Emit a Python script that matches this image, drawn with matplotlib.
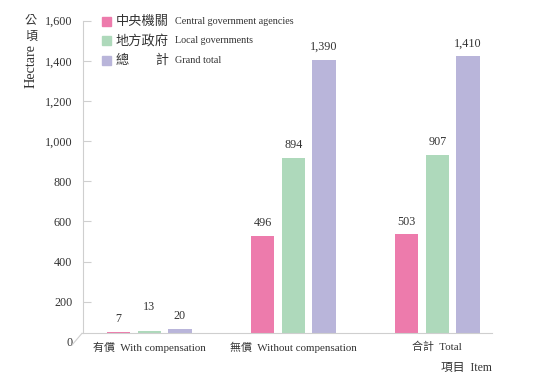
import matplotlib.pyplot as plt
from matplotlib.lines import Line2D
from matplotlib.patches import Rectangle
import numpy as np

# data
categories = ["有償  With compensation", "無償  Without compensation", "合計  Total"]
central = [7, 496, 503]
local = [13, 894, 907]
grand = [20, 1390, 1410]
series_cjk = ["中央機關", "地方政府", "總　　計"]
series_en = ["Central government agencies", "Local governments", "Grand total"]
colors = ["#ED7BAC", "#AED9BB", "#B9B5DA"]
yticks = [0, 200, 400, 600, 800, 1000, 1200, 1400, 1600]

FAM = ["Liberation Serif", "Noto Sans CJK TC"]
CJK = ["Noto Sans CJK TC"]
TXT = "#333333"
GRID = "#cfcfcf"

W, H = 536, 380
fig = plt.figure(figsize=(W / 100, H / 100), dpi=100)


def box(l, t, r, b):
    return [l / W, 1 - b / H, (r - l) / W, (b - t) / H]


def fx(x):
    return x / W


def fy(y):
    return 1 - y / H


# tick axis (back wall, slightly offset like the 3D original)
tax = fig.add_axes(box(83.3, 20.7, 84, 341.8))
tax.set_facecolor("none")
tax.set_ylim(0, 1600)
tax.set_xticks([])
tax.set_yticks(yticks)
tax.set_yticklabels([f"{v:,}" for v in yticks], family=FAM, size=8.7, color=TXT)
tax.tick_params(axis="y", direction="in", length=6, width=0.8, color=GRID, pad=8)
for s in ["top", "right", "bottom"]:
    tax.spines[s].set_visible(False)
tax.spines["left"].set_color(GRID)
tax.spines["left"].set_bounds(42, 1600)
tax.yaxis.get_major_ticks()[0].tick1line.set_visible(False)

# bar axis
ax = fig.add_axes(box(82, 333.3 - 1600 * 0.1965, 492, 333.3))
ax.set_facecolor("none")
ax.set_ylim(0, 1600)
ax.set_xlim(-0.467, 2.38)
x = np.arange(len(categories))
w = 0.163
step = 0.212
for i, (vals, c) in enumerate(zip([central, local, grand], colors)):
    pos = x + (i - 1) * step
    ax.bar(pos, vals, width=w, color=c, linewidth=0)
    for j, (p, v) in enumerate(zip(pos, vals)):
        # small group: raise middle label so labels don't collide
        off = 13 if (v < 50 and i == 1) else 5
        ax.annotate(f"{v:,}", (p, v), xytext=(0, off), textcoords="offset points",
                    ha="center", va="bottom", family=FAM, size=8.7, color=TXT)

ax.set_yticks([])
ax.set_xticks(x)
ax.set_xticklabels(categories, family=FAM, size=7.9, color=TXT)
ax.tick_params(axis="x", length=0, pad=6)
for s in ["top", "right", "left"]:
    ax.spines[s].set_visible(False)
ax.spines["bottom"].set_color(GRID)

# 3D floor corner
fig.add_artist(Line2D([fx(82), fx(72)], [fy(333.3), fy(345)], color=GRID, lw=0.8))

# legend
for k, (cj, en, c) in enumerate(zip(series_cjk, series_en, colors)):
    yy = 21 + k * 19.7
    fig.add_artist(Rectangle((fx(102), fy(yy + 4.5)), 9 / W, 9 / H,
                             transform=fig.transFigure, color=c))
    fig.text(fx(116), fy(yy), cj, family=CJK, size=9.5, color=TXT, va="center")
    fig.text(fx(175), fy(yy), en, family=FAM, size=7.3, color=TXT, va="center")

# axis titles
fig.text(fx(31), fy(20), "公", family=CJK, size=8.7, color=TXT, ha="center", va="center")
fig.text(fx(31), fy(36), "頃", family=CJK, size=8.7, color=TXT, ha="center", va="center")
fig.text(fx(31), fy(66), "Hectare", family=FAM, size=10.3, color=TXT,
         rotation=90, ha="center", va="center")
fig.text(fx(492), fy(368), "項目  Item", family=FAM, size=8.5, color=TXT,
         ha="right", va="center")

fig.savefig("out.png", dpi=100)
